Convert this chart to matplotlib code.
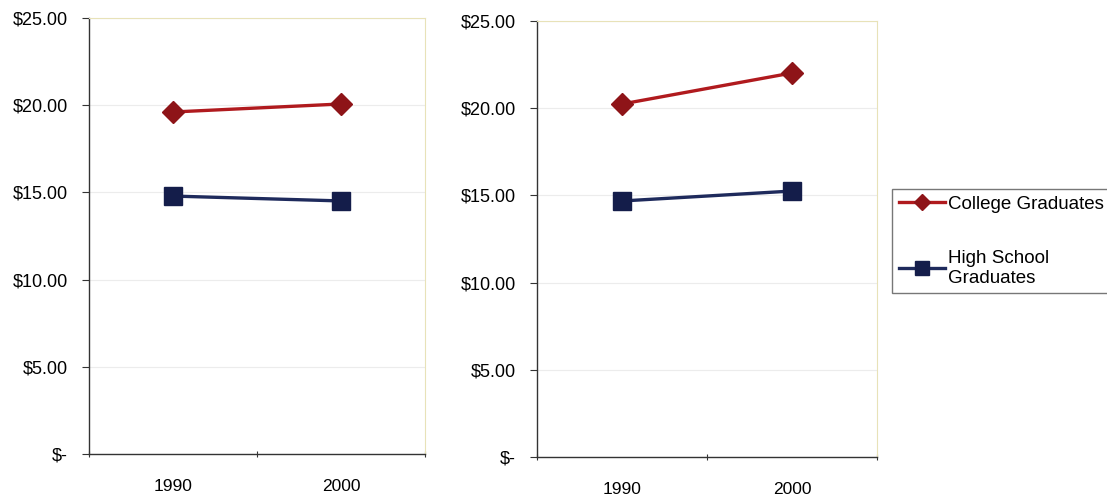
import numpy as np
import matplotlib.pyplot as plt
from matplotlib.ticker import FuncFormatter

plt.rcParams['font.family'] = ['Liberation Sans', 'DejaVu Sans']

# Hourly wages by education level
anos = ['1990', '2000']
college_a = [19.61, 20.07]
highschool_a = [14.79, 14.51]
college_b = [20.24, 22.02]
highschool_b = [14.68, 15.25]

vermelho = '#b01a1e'
vermelho_marc = '#8e1418'
azul = '#1e2a5c'
azul_marc = '#141d4a'

def dolar(v, pos):
    if v == 0:
        return '$-'
    return '${:.2f}'.format(v)

def painel(ax, col, hs):
    x = np.arange(len(anos)) + 0.5
    ax.plot(x, col, color=vermelho, lw=2.4, marker='D', ms=11,
            mfc=vermelho_marc, mec=vermelho_marc, label='College Graduates', zorder=3)
    ax.plot(x, hs, color=azul, lw=2.4, marker='s', ms=13,
            mfc=azul_marc, mec=azul_marc, label='High School\nGraduates', zorder=3)
    ax.set_xlim(0, 2)
    ax.set_ylim(0, 25)
    ax.set_yticks([0, 5, 10, 15, 20, 25])
    ax.yaxis.set_major_formatter(FuncFormatter(dolar))
    ax.set_xticks([0, 1, 2])
    ax.set_xticklabels([])
    ax.set_xticks(x, minor=True)
    ax.set_xticklabels(anos, minor=True)
    ax.tick_params(axis='x', which='minor', length=0, pad=18, labelsize=12.5)
    ax.tick_params(axis='x', which='major', length=5, direction='inout', color='#333333')
    ax.tick_params(axis='y', length=5, direction='out', color='#333333', labelsize=13, pad=10)
    ax.grid(axis='y', color='#ececec', lw=0.8)
    ax.set_axisbelow(True)
    for lado in ['top', 'right']:
        ax.spines[lado].set_color('#e8e2b8')
        ax.spines[lado].set_linewidth(0.8)
    for lado in ['left', 'bottom']:
        ax.spines[lado].set_color('#333333')
        ax.spines[lado].set_linewidth(1.0)

fig = plt.figure(figsize=(11.07, 4.96), dpi=100)
ax1 = fig.add_axes([89/1107, 1 - 454/496, 336/1107, 436/496])
ax2 = fig.add_axes([537/1107, 1 - 457/496, 340/1107, 436/496])
painel(ax1, college_a, highschool_a)
painel(ax2, college_b, highschool_b)

h, l = ax2.get_legend_handles_labels()
leg = fig.legend(h, l, loc='upper left', bbox_to_anchor=(892/1107, 1 - 189/496),
                 fontsize=13.5, frameon=True, fancybox=False, labelspacing=2.0,
                 handlelength=2.5, handletextpad=0.15, borderpad=0.35, borderaxespad=0,
                 markerscale=0.75)
leg.get_frame().set_edgecolor('#555555')
leg.get_frame().set_linewidth(1.0)

fig.savefig('out.png', dpi=100)
